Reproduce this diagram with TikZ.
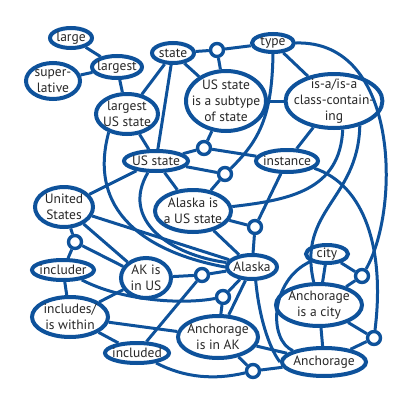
\documentclass[tikz,border=0pt]{standalone}
\usepackage{fontspec}
\setmainfont{PT Sans}
\usetikzlibrary{shapes.geometric}
\definecolor{netblue}{RGB}{14,82,155}

\tikzset{
  concept/.style={ellipse, draw=netblue, line width=4pt, inner sep=-6pt, align=center,
    text=black!85, font=\fontsize{13.5}{16}\selectfont},
  role/.style={circle, draw=netblue, line width=3.4pt, minimum size=13pt, inner sep=0pt},
  link/.style={draw=netblue, line width=3pt},
}

\begin{document}
\begin{tikzpicture}[x=1pt,y=1pt]
  \useasboundingbox (0,0) rectangle (413,-407);

  % concepts
  \node[concept, minimum width=42, minimum height=20] (large) at (71,-38) {large};
  \node[concept, minimum width=50, minimum height=22] (largest) at (117,-67) {largest};
  \node[concept, minimum width=54, minimum height=36] (superl) at (53,-81) {super-\\lative};
  \node[concept, minimum width=42, minimum height=20] (state) at (173,-53) {state};
  \node[concept, minimum width=42, minimum height=18] (type) at (273,-43) {type};
  \node[concept, minimum width=80, minimum height=60] (subtype) at (226,-101) {US state\\is a subtype\\of state};
  \node[concept, minimum width=62, minimum height=40] (largestus) at (127,-114) {largest\\US state};
  \node[concept, minimum width=88, minimum height=54] (isa) at (334,-101) {is-a/is-a\\class-contain-\\ing};
  \node[concept, minimum width=64, minimum height=20] (usstate) at (156,-161) {US state};
  \node[concept, minimum width=62, minimum height=22] (instance) at (287,-161) {instance};
  \node[concept, minimum width=58, minimum height=40] (unitedst) at (64,-207) {United\\States};
  \node[concept, minimum width=76, minimum height=42] (alaskaus) at (193,-211) {Alaska is\\a US state};
  \node[concept, minimum width=50, minimum height=24] (alaska) at (252,-267) {Alaska};
  \node[concept, minimum width=62, minimum height=20] (includer) at (63,-270) {includer};
  \node[concept, minimum width=50, minimum height=40] (akus) at (146,-278) {AK is\\in US};
  \node[concept, minimum width=76, minimum height=40] (includes) at (70,-317) {includes/\\is within};
  \node[concept, minimum width=64, minimum height=20] (included) at (137,-353) {included};
  \node[concept, minimum width=80, minimum height=42] (anchak) at (218,-337) {Anchorage\\is in AK};
  \node[concept, minimum width=42, minimum height=18] (city) at (327,-254) {city};
  \node[concept, minimum width=86, minimum height=42] (anchcity) at (319,-305) {Anchorage\\is a city};
  \node[concept, minimum width=84, minimum height=28] (anchorage) at (324,-362) {Anchorage};

  % role circles
  \node[role] (r1) at (217,-50) {};
  \node[role] (r2) at (204,-148) {};
  \node[role] (r3) at (225,-174) {};
  \node[role] (r4) at (255,-227) {};
  \node[role] (r5) at (75,-242) {};
  \node[role] (r6) at (202,-275) {};
  \node[role] (r7) at (223,-297) {};
  \node[role] (r8) at (253,-371) {};
  \node[role] (r9) at (362,-276) {};
  \node[role] (r10) at (374,-338) {};

  % links
  \path[link] (large) -- (largest);
  \path[link] (superl) -- (largest);
  \path[link] (largest) -- (largestus);
  \path[link] (state) -- (largestus);
  \path[link] (state) -- (usstate);
  \path[link] (state) -- (subtype);
  \path[link] (state) -- (r1) -- (type);
  \path[link] (r1) -- (subtype);
  \path[link] (type) -- (isa);
  \path[link] (subtype) -- (isa);
  \path[link] (type.south) .. controls (272,-115) and (260,-140) .. (r3);
  \path[link] (type.east) .. controls (400,-40) and (400,-210) .. (r9);
  \path[link] (r2) -- (subtype);
  \path[link] (r2) -- (usstate);
  \path[link] (r2) -- (instance);
  \path[link] (largestus) -- (usstate);
  \path[link] (usstate) -- (unitedst);
  \path[link] (usstate) -- (alaskaus);
  \path[link] (usstate) -- (r3) -- (alaskaus);
  \path[link] (instance) -- (r4);
  \path[link] (alaskaus) -- (r4) -- (alaska);
  \path[link] (isa) -- (instance);
  \path[link] (isa.-73) .. controls (340,-190) and (290,-200) .. (alaskaus);
  \path[link] (isa.-44) .. controls (358,-200) and (297,-210) .. (anchcity);
  \path[link] (instance.-15) .. controls (365,-185) and (385,-250) .. (r10);
  \path[link] (city) -- (r9) -- (anchcity);
  \path[link] (city) -- (anchcity);
  \path[link] (city) .. controls (270,-280) and (268,-340) .. (anchorage.160);
  \path[link] (anchcity) -- (anchorage);
  \path[link] (anchcity) -- (r10) -- (anchorage);
  \path[link] (unitedst) -- (r5) -- (includer);
  \path[link] (r5) -- (akus);
  \path[link] (unitedst) -- (akus);
  \path[link] (unitedst) -- (alaska);
  \path[link] (largestus.225) .. controls (85,-220) and (160,-255) .. (alaska.west);
  \path[link] (usstate.235) .. controls (120,-220) and (170,-255) .. (alaska.170);
  \path[link] (alaskaus) -- (alaska);
  \path[link] (includer) -- (includes);
  \path[link] (includer) .. controls (120,-300) and (180,-305) .. (r7);
  \path[link] (includes) -- (akus);
  \path[link] (includes) -- (included);
  \path[link] (includes) -- (anchak);
  \path[link] (akus) -- (r6) -- (alaska);
  \path[link] (r6) -- (included);
  \path[link] (alaska) -- (r7) -- (anchak);
  \path[link] (alaska) -- (anchak);
  \path[link] (alaska.-75) .. controls (260,-325) and (272,-352) .. (anchorage.west);
  \path[link] (anchak) -- (anchorage);
  \path[link] (anchak) -- (r8) -- (anchorage);
  \path[link] (included) .. controls (185,-378) and (215,-380) .. (r8);
\end{tikzpicture}
\end{document}
